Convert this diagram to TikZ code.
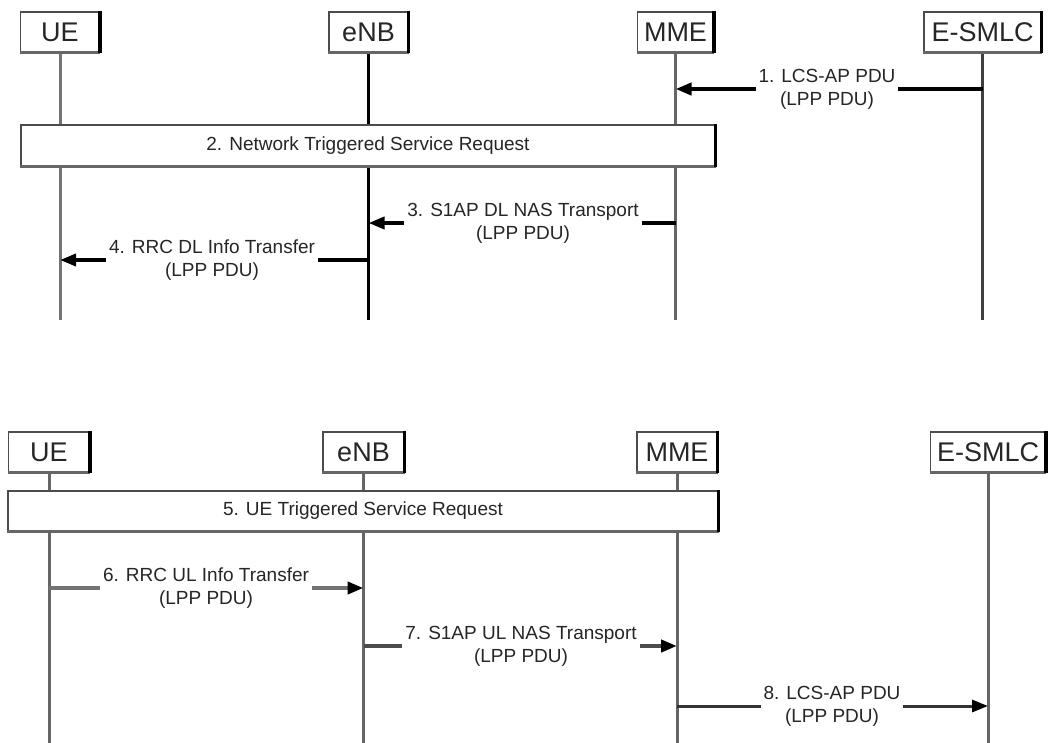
\documentclass[tikz,border=0pt]{standalone}
\usepackage{fontspec}
\setmainfont{Liberation Sans}
\usetikzlibrary{arrows.meta}
\begin{document}
\begin{tikzpicture}[x=1pt,y=-1pt,
 entity/.style={draw=black!70, line width=1.4pt, fill=white, minimum height=40pt, inner sep=0pt, font=\fontsize{27}{30}\selectfont, text=black!85},
 lifeline/.style={line width=3pt, draw=black!60},
 procbox/.style={draw=black!70, line width=1.4pt, fill=white, minimum height=40pt, inner sep=0pt, font=\fontsize{19}{23}\selectfont, text=black!85},
 msglabel/.style={fill=white, inner xsep=3pt, inner ysep=1pt, align=center, font=\fontsize{19}{23}\selectfont, text=black!85},
 msg/.style={line width=3.5pt, -{Triangle[length=16pt,width=12pt,color=black]}},
 shadowb/.style={line width=3.5pt, draw=black!60},
 shadowr/.style={line width=3.5pt, draw=black},
]
\useasboundingbox (0,0) rectangle (1048,743);

% ---------- top part ----------
\node[entity, minimum width=79pt] (ue1) at (60,32) {UE};
\node[entity, minimum width=79pt] (enb1) at (368.5,32) {eNB};
\node[entity, minimum width=76pt] (mme1) at (675.5,32) {MME};
\node[entity, minimum width=117pt] (esmlc1) at (982.5,32) {E-SMLC};

\draw[lifeline, draw=black!55] (ue1.south) -- (ue1.south |- 0,320);
\draw[lifeline, draw=black] (enb1.south) -- (enb1.south |- 0,320);
\draw[lifeline, draw=black!60] (mme1.south) -- (mme1.south |- 0,320);
\draw[lifeline, draw=black!75] (esmlc1.south) -- (esmlc1.south |- 0,320);

% message 1
\draw[msg, line width=4.5pt, draw=black] (esmlc1.south |- 0,89) -- (mme1.south |- 0,89);
\node[msglabel] (l1) at (827,89) {1. LCS-AP PDU\\(LPP PDU)};

% box 2
\node[procbox, minimum width=694pt, minimum height=41pt] (sr2) at (368,145.5) {2. Network Triggered Service Request};

% message 3
\draw[msg, draw=black] (mme1.south |- 0,223) -- (enb1.south |- 0,223);
\node[msglabel] (l3) at (523,223) {3. S1AP DL NAS Transport\\(LPP PDU)};

% message 4
\draw[msg, draw=black] (enb1.south |- 0,260) -- (ue1.south |- 0,260);
\node[msglabel] (l4) at (212,260) {4. RRC DL Info Transfer\\(LPP PDU)};

% ---------- bottom part ----------
\node[entity, minimum width=81pt] (ue2) at (49,452) {UE};
\node[entity, minimum width=81pt] (enb2) at (363.5,452) {eNB};
\node[entity, minimum width=80pt] (mme2) at (677,452) {MME};
\node[entity, minimum width=115pt] (esmlc2) at (988,452) {E-SMLC};

\draw[lifeline] (ue2.south) -- (ue2.south |- 0,743);
\draw[lifeline] (enb2.south) -- (enb2.south |- 0,743);
\draw[lifeline] (mme2.south) -- (mme2.south |- 0,743);
\draw[lifeline] (esmlc2.south) -- (esmlc2.south |- 0,743);

% box 5
\node[procbox, minimum width=710pt] (sr5) at (363,511) {5. UE Triggered Service Request};

% message 6
\draw[msg, line width=4.5pt, draw=black!55] (ue2.south |- 0,588) -- (enb2.south |- 0,588);
\node[msglabel] (l6) at (206,588) {6. RRC UL Info Transfer\\(LPP PDU)};

% message 7
\draw[msg, line width=4.5pt, draw=black!70] (enb2.south |- 0,646) -- (mme2.south |- 0,646);
\node[msglabel] (l7) at (521,646) {7. S1AP UL NAS Transport\\(LPP PDU)};

% message 8
\draw[msg, line width=3pt, draw=black!80] (mme2.south |- 0,706) -- (esmlc2.south |- 0,706);
\node[msglabel] (l8) at (832,706) {8. LCS-AP PDU\\(LPP PDU)};

% shadows of boxes
\foreach \n in {ue1,enb1,mme1,esmlc1,sr2,ue2,enb2,mme2,esmlc2,sr5} {
  \draw[shadowb] (\n.south west) -- (\n.south east);
  \draw[shadowr] (\n.south east) -- (\n.north east);
}
\end{tikzpicture}
\end{document}
